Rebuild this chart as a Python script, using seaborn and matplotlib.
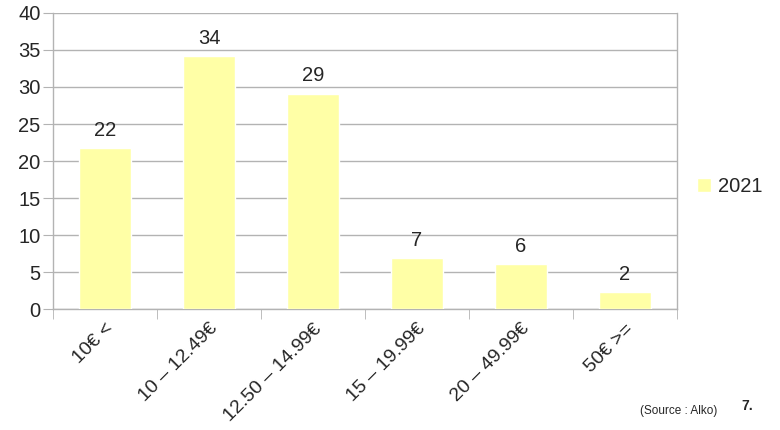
import matplotlib
matplotlib.use('Agg')
import matplotlib.pyplot as plt
import seaborn as sns
import numpy as np

# Données
categories = ['10€ <', '10 – 12.49€', '12.50 – 14.99€', '15 – 19.99€', '20 – 49.99€', '50€ >=']
values_2021 = [21.7, 34.2, 29.1, 6.9, 6.1, 2.3]
series_name = '2021'
y_ticks = [0, 5, 10, 15, 20, 25, 30, 35, 40]

bar_color = '#ffffa6'
grid_color = '#b3b3b3'

sns.set_style('white')
plt.rcParams['font.family'] = ['Liberation Sans', 'DejaVu Sans']

fig = plt.figure(figsize=(7.8, 4.3), dpi=100)
ax = fig.add_axes([0.068, 0.281, 0.8, 0.689])

sns.barplot(x=categories, y=values_2021, color=bar_color, saturation=1,
            width=0.5, ax=ax, zorder=3)

ax.set_ylim(0, 40)
ax.set_xlim(-0.5, len(categories) - 0.5)
ax.set_yticks(y_ticks)
ax.yaxis.grid(True, color=grid_color, linewidth=1, zorder=0)
ax.set_axisbelow(True)

ax.spines['top'].set_visible(False)
for side in ['left', 'right', 'bottom']:
    ax.spines[side].set_color(grid_color)
    ax.spines[side].set_linewidth(1)

ax.tick_params(axis='y', length=7, color=grid_color, labelsize=14.5, pad=2, left=True)
ax.tick_params(axis='x', which='major', length=0, labelsize=14, pad=8)
ax.set_xticks(np.arange(-0.5, len(categories)), minor=True)
ax.tick_params(axis='x', which='minor', length=7, color=grid_color, bottom=True)

for lab in ax.get_xticklabels():
    lab.set_rotation(45)
    lab.set_ha('right')
    lab.set_rotation_mode('anchor')

ax.bar_label(ax.containers[0], labels=[f'{v:.0f}' for v in values_2021],
             padding=6, fontsize=14.5)

ax.set_xlabel('')
ax.set_ylabel('')

fig.legend(handles=[ax.patches[0]], labels=[series_name], loc='center left',
           bbox_to_anchor=(0.87, 0.567), frameon=False, fontsize=14.5,
           handlelength=0.7, handleheight=0.7, handletextpad=0.35)

fig.text(0.82, 0.045, '(Source : Alko)', fontsize=8.5, ha='left', va='center')
fig.text(0.951, 0.055, '7.', fontsize=10, fontweight='bold', ha='left', va='center')

fig.savefig('out.png', dpi=100)
